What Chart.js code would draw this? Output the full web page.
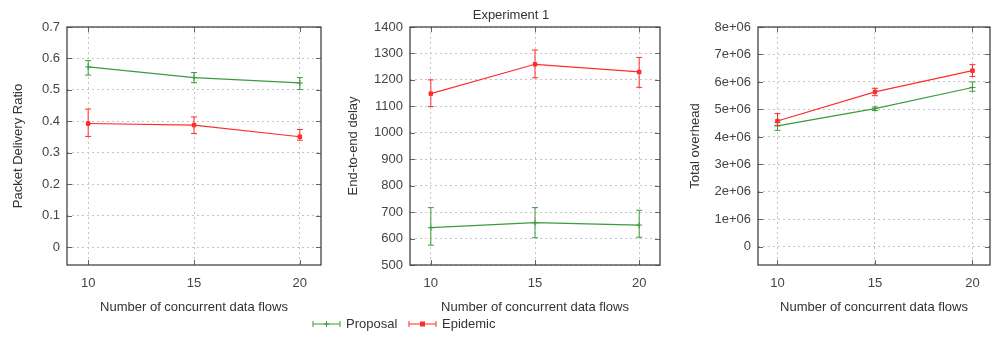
<!DOCTYPE html>
<html>
<head>
<meta charset="utf-8">
<script src="https://cdn.jsdelivr.net/npm/chart.js@4.4.0/dist/chart.umd.min.js"></script>
<style>
  body { margin: 0; background: #fff; }
  #wrap { position: relative; width: 995px; height: 337px; overflow: hidden; }
  canvas { position: absolute; top: 0; }
</style>
</head>
<body>
<div id="wrap">
  <canvas id="pdrChart" width="330" height="337" style="left:0px"></canvas>
  <canvas id="delayChart" width="365" height="337" style="left:300px"></canvas>
  <canvas id="overheadChart" width="330" height="337" style="left:665px"></canvas>
</div>
<script>
// x values: number of concurrent data flows
const flows = [10, 15, 20];
const seriesNames = ['Proposal', 'Epidemic'];

// packet delivery ratio
const pdrProposal = [0.573, 0.539, 0.522];
const pdrProposalLow = [0.547, 0.523, 0.501];
const pdrProposalHigh = [0.593, 0.555, 0.539];
const pdrEpidemic = [0.393, 0.388, 0.351];
const pdrEpidemicLow = [0.352, 0.361, 0.340];
const pdrEpidemicHigh = [0.439, 0.414, 0.374];
const pdrTickValues = [0, 0.1, 0.2, 0.3, 0.4, 0.5, 0.6, 0.7];
const pdrTickLabels = ['0', '0.1', '0.2', '0.3', '0.4', '0.5', '0.6', '0.7'];

// end-to-end delay
const delayProposal = [641, 660, 651];
const delayProposalLow = [575, 603, 605];
const delayProposalHigh = [717, 717, 707];
const delayEpidemic = [1148, 1259, 1230];
const delayEpidemicLow = [1099, 1208, 1172];
const delayEpidemicHigh = [1200, 1313, 1285];
const delayTickValues = [500, 600, 700, 800, 900, 1000, 1100, 1200, 1300, 1400];
const delayTickLabels = ['500', '600', '700', '800', '900', '1000', '1100', '1200', '1300', '1400'];

// total overhead
const ovhProposal = [4.40e6, 5.03e6, 5.80e6];
const ovhProposalLow = [4.24e6, 4.96e6, 5.66e6];
const ovhProposalHigh = [4.52e6, 5.09e6, 6.00e6];
const ovhEpidemic = [4.58e6, 5.64e6, 6.41e6];
const ovhEpidemicLow = [4.42e6, 5.50e6, 6.20e6];
const ovhEpidemicHigh = [4.85e6, 5.77e6, 6.63e6];
const ovhTickValues = [0, 1e6, 2e6, 3e6, 4e6, 5e6, 6e6, 7e6, 8e6];
const ovhTickLabels = ['0', '1e+06', '2e+06', '3e+06', '4e+06', '5e+06', '6e+06', '7e+06', '8e+06'];

const GREEN = '#3c9a3c';
const RED = '#ff2c2c';
const FONT = '"Liberation Sans", Arial, sans-serif';

Chart.defaults.font.family = FONT;
Chart.defaults.font.size = 13;
Chart.defaults.color = '#444';

// error bars drawn through the chart's own scales
const errorBars = {
    id: 'errorBars',
    afterDatasetsDraw(chart) {
        const { ctx, scales: { x, y } } = chart;
        ctx.save();
        chart.data.datasets.forEach(ds => {
            ctx.strokeStyle = ds.borderColor;
            ctx.lineWidth = 1;
            ds.data.forEach((p, i) => {
                const px = x.getPixelForValue(p.x);
                const lo = y.getPixelForValue(ds.errLow[i]);
                const hi = y.getPixelForValue(ds.errHigh[i]);
                ctx.beginPath();
                ctx.moveTo(px, lo); ctx.lineTo(px, hi);
                ctx.moveTo(px - 3, lo); ctx.lineTo(px + 3, lo);
                ctx.moveTo(px - 3, hi); ctx.lineTo(px + 3, hi);
                ctx.stroke();
            });
        });
        ctx.restore();
    }
};

// gnuplot style box with inward ticks
const plotFrame = {
    id: 'plotFrame',
    beforeDatasetsDraw(chart) {
        const { ctx, chartArea: { left, right, top, bottom }, scales: { x, y } } = chart;
        ctx.save();
        ctx.strokeStyle = '#666';
        ctx.lineWidth = 1;
        ctx.beginPath();
        x.ticks.forEach(t => {
            const px = Math.round(x.getPixelForValue(t.value)) + 0.5;
            ctx.moveTo(px, bottom); ctx.lineTo(px, bottom - 5);
            ctx.moveTo(px, top); ctx.lineTo(px, top + 5);
        });
        y.ticks.forEach(t => {
            const py = Math.round(y.getPixelForValue(t.value)) + 0.5;
            ctx.moveTo(left, py); ctx.lineTo(left + 5, py);
            ctx.moveTo(right, py); ctx.lineTo(right - 5, py);
        });
        ctx.stroke();
        ctx.strokeStyle = '#444';
        ctx.lineWidth = 1.3;
        ctx.strokeRect(left, top, right - left, bottom - top);
        ctx.restore();
    }
};

// figure title and shared legend (drawn on the middle panel)
const figureText = {
    id: 'figureText',
    afterDraw(chart, args, opts) {
        const { ctx } = chart;
        ctx.save();
        ctx.font = `13px ${FONT}`;
        ctx.fillStyle = '#333';
        ctx.textAlign = 'center';
        ctx.textBaseline = 'middle';
        ctx.fillText(opts.title, opts.titleX, opts.titleY);

        ctx.textAlign = 'left';
        chart.data.datasets.forEach((ds, i) => {
            const x0 = opts.legendX[i];
            const yy = opts.legendY;
            const w = 27;
            ctx.strokeStyle = ds.borderColor;
            ctx.lineWidth = 1;
            ctx.beginPath();
            ctx.moveTo(x0, yy); ctx.lineTo(x0 + w, yy);
            ctx.moveTo(x0, yy - 3); ctx.lineTo(x0, yy + 3);
            ctx.moveTo(x0 + w, yy - 3); ctx.lineTo(x0 + w, yy + 3);
            ctx.stroke();
            const mx = x0 + w / 2;
            if (ds.pointStyle === 'rect') {
                ctx.fillStyle = ds.borderColor;
                ctx.fillRect(mx - 2.5, yy - 2.5, 5, 5);
            } else {
                ctx.beginPath();
                ctx.moveTo(mx - 3, yy); ctx.lineTo(mx + 3, yy);
                ctx.moveTo(mx, yy - 3); ctx.lineTo(mx, yy + 3);
                ctx.stroke();
            }
            ctx.fillStyle = '#333';
            ctx.fillText(ds.label, x0 + w + 6, yy);
        });
        ctx.restore();
    }
};

function toPoints(values) {
    return flows.map((f, i) => ({ x: f, y: values[i] }));
}

function makeDataset(label, color, style, values, low, high) {
    return {
        label: label,
        data: toPoints(values),
        errLow: low,
        errHigh: high,
        borderColor: color,
        backgroundColor: color,
        borderWidth: 1.2,
        pointStyle: style,
        pointRadius: style === 'rect' ? 2.5 : 3,
        pointBorderWidth: 1,
        tension: 0
    };
}

function makeChart(id, p) {
    const config = {
        type: 'line',
        data: {
            datasets: [
                makeDataset(seriesNames[0], GREEN, 'cross', p.proposal, p.proposalLow, p.proposalHigh),
                makeDataset(seriesNames[1], RED, 'rect', p.epidemic, p.epidemicLow, p.epidemicHigh)
            ]
        },
        options: {
            responsive: false,
            animation: false,
            devicePixelRatio: 1,
            layout: { padding: { top: 27, right: p.padRight, left: 0, bottom: 0 } },
            scales: {
                x: {
                    type: 'linear',
                    min: 9,
                    max: p.xMax,
                    afterBuildTicks: scale => { scale.ticks = flows.map(v => ({ value: v })); },
                    afterFit: scale => { scale.height = 72; },
                    ticks: { padding: 11, autoSkip: false, maxRotation: 0, callback: v => String(v) },
                    grid: { color: '#c4c4c4', lineWidth: 1, drawTicks: false },
                    border: { display: false, dash: [2, 3] },
                    title: {
                        display: true,
                        text: 'Number of concurrent data flows',
                        color: '#333',
                        padding: { top: 0, bottom: 22.2 }
                    }
                },
                y: {
                    min: p.yMin,
                    max: p.yMax,
                    afterBuildTicks: scale => { scale.ticks = p.tickValues.map(v => ({ value: v })); },
                    afterFit: scale => { scale.width = p.yWidth; },
                    ticks: { padding: 7, autoSkip: false, callback: (v, i) => p.tickLabels[i] },
                    grid: { color: '#c4c4c4', lineWidth: 1, drawTicks: false },
                    border: { display: false, dash: [2, 3] },
                    title: {
                        display: true,
                        text: p.yTitle,
                        color: '#333',
                        padding: { top: p.yTitlePad, bottom: 0 }
                    }
                }
            },
            plugins: {
                legend: { display: false },
                tooltip: { enabled: false },
                figureText: p.figureText || {}
            }
        },
        plugins: [plotFrame, errorBars].concat(p.extraPlugins || [])
    };
    return new Chart(document.getElementById(id), config);
}

makeChart('pdrChart', {
    proposal: pdrProposal, proposalLow: pdrProposalLow, proposalHigh: pdrProposalHigh,
    epidemic: pdrEpidemic, epidemicLow: pdrEpidemicLow, epidemicHigh: pdrEpidemicHigh,
    tickValues: pdrTickValues, tickLabels: pdrTickLabels,
    yMin: -0.057, yMax: 0.7, xMax: 21,
    yWidth: 67, padRight: 9, yTitlePad: 10.2,
    yTitle: 'Packet Delivery Ratio'
});

makeChart('delayChart', {
    proposal: delayProposal, proposalLow: delayProposalLow, proposalHigh: delayProposalHigh,
    epidemic: delayEpidemic, epidemicLow: delayEpidemicLow, epidemicHigh: delayEpidemicHigh,
    tickValues: delayTickValues, tickLabels: delayTickLabels,
    yMin: 500, yMax: 1400, xMax: 21,
    yWidth: 110, padRight: 5, yTitlePad: 45.2,
    yTitle: 'End-to-end delay',
    extraPlugins: [figureText],
    figureText: { title: 'Experiment 1', titleX: 211, titleY: 15, legendX: [13, 109], legendY: 324 }
});

makeChart('overheadChart', {
    proposal: ovhProposal, proposalLow: ovhProposalLow, proposalHigh: ovhProposalHigh,
    epidemic: ovhEpidemic, epidemicLow: ovhEpidemicLow, epidemicHigh: ovhEpidemicHigh,
    tickValues: ovhTickValues, tickLabels: ovhTickLabels,
    yMin: -0.66e6, yMax: 8e6, xMax: 20.9,
    yWidth: 93, padRight: 0, yTitlePad: 22.2,
    yTitle: 'Total overhead'
});
</script>
</body>
</html>
